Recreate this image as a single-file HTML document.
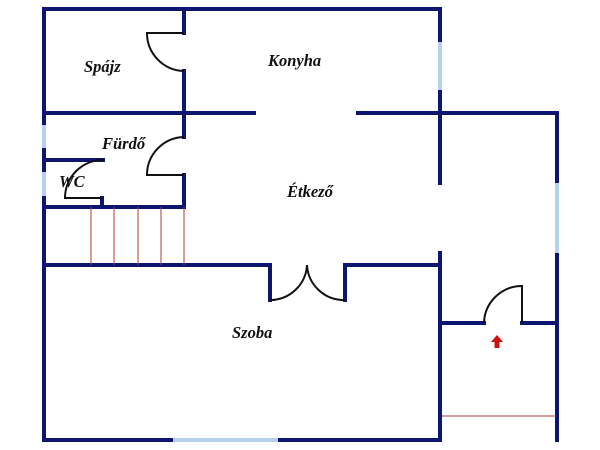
<!DOCTYPE html>
<html><head><meta charset="utf-8"><style>
html,body{margin:0;padding:0;background:#fff;}
svg{display:block;}
text{font-family:"Liberation Serif",serif;font-style:italic;font-weight:bold;font-size:16.5px;fill:#111;}
</style></head><body>
<svg width="600" height="450" viewBox="0 0 600 450" xmlns="http://www.w3.org/2000/svg">
<g stroke="#0c1570" stroke-width="4" fill="none" stroke-linecap="square">
<line x1="44" y1="9" x2="440" y2="9"/>
<line x1="44" y1="9" x2="44" y2="125"/>
<line x1="44" y1="148" x2="44" y2="172"/>
<line x1="44" y1="196" x2="44" y2="440"/>
<line x1="440" y1="9" x2="440" y2="42"/>
<line x1="440" y1="90" x2="440" y2="183"/>
<line x1="440" y1="253" x2="440" y2="440"/>
<line x1="44" y1="440" x2="173" y2="440"/>
<line x1="278" y1="440" x2="440" y2="440"/>
<line x1="358" y1="113" x2="557" y2="113"/>
<line x1="557" y1="113" x2="557" y2="183"/>
<line x1="557" y1="253" x2="557" y2="440"/>
<line x1="440" y1="323" x2="484" y2="323"/>
<line x1="522" y1="323" x2="557" y2="323"/>
<line x1="44" y1="113" x2="254" y2="113"/>
<line x1="184" y1="9" x2="184" y2="33"/>
<line x1="184" y1="71" x2="184" y2="137"/>
<line x1="184" y1="175" x2="184" y2="207"/>
<line x1="44" y1="160" x2="103" y2="160"/>
<line x1="44" y1="207" x2="184" y2="207"/>
<line x1="102" y1="198" x2="102" y2="207"/>
<line x1="44" y1="265" x2="270" y2="265"/>
<line x1="270" y1="265" x2="270" y2="300"/>
<line x1="345" y1="265" x2="440" y2="265"/>
<line x1="345" y1="265" x2="345" y2="300"/>
</g>
<g stroke="#b4d2ea" stroke-width="4">
<line x1="440" y1="42" x2="440" y2="90"/>
<line x1="557" y1="183" x2="557" y2="253"/>
<line x1="173" y1="440" x2="278" y2="440"/>
<line x1="44" y1="125" x2="44" y2="148"/>
<line x1="44" y1="172" x2="44" y2="196"/>
</g>
<g stroke="#111" stroke-width="2" fill="none">
<path d="M184 33 H147 A38 38 0 0 0 184 71"/>
<path d="M184 137 A38 38 0 0 0 147 175 H184"/>
<path d="M103 160 A38 38 0 0 0 65 198 H102"/>
<path d="M270 300 A37 37 0 0 0 307 265 A37 37 0 0 0 345 300"/>
<path d="M270 300 H275 M340 300 H345" />
<path d="M484 323 A38 38 0 0 1 522 286 V323"/>
</g>
<g stroke="#b03a3a" stroke-width="1">
<line x1="91" y1="207" x2="91" y2="265"/>
<line x1="114" y1="207" x2="114" y2="265"/>
<line x1="138" y1="207" x2="138" y2="265"/>
<line x1="161" y1="207" x2="161" y2="265"/>
<line x1="184" y1="207" x2="184" y2="265"/>
<line x1="442" y1="416" x2="556" y2="416"/>
</g>
<path d="M497 335 L503 342 L499.5 342 L499.5 348 L494.5 348 L494.5 342 L491 342 Z" fill="#d01010"/>
<text x="84" y="72">Spájz</text>
<text x="268" y="66">Konyha</text>
<text x="102" y="149">Fürdő</text>
<text x="59" y="187">WC</text>
<text x="287" y="197">Étkező</text>
<text x="232" y="338">Szoba</text>
</svg>
</body></html>
